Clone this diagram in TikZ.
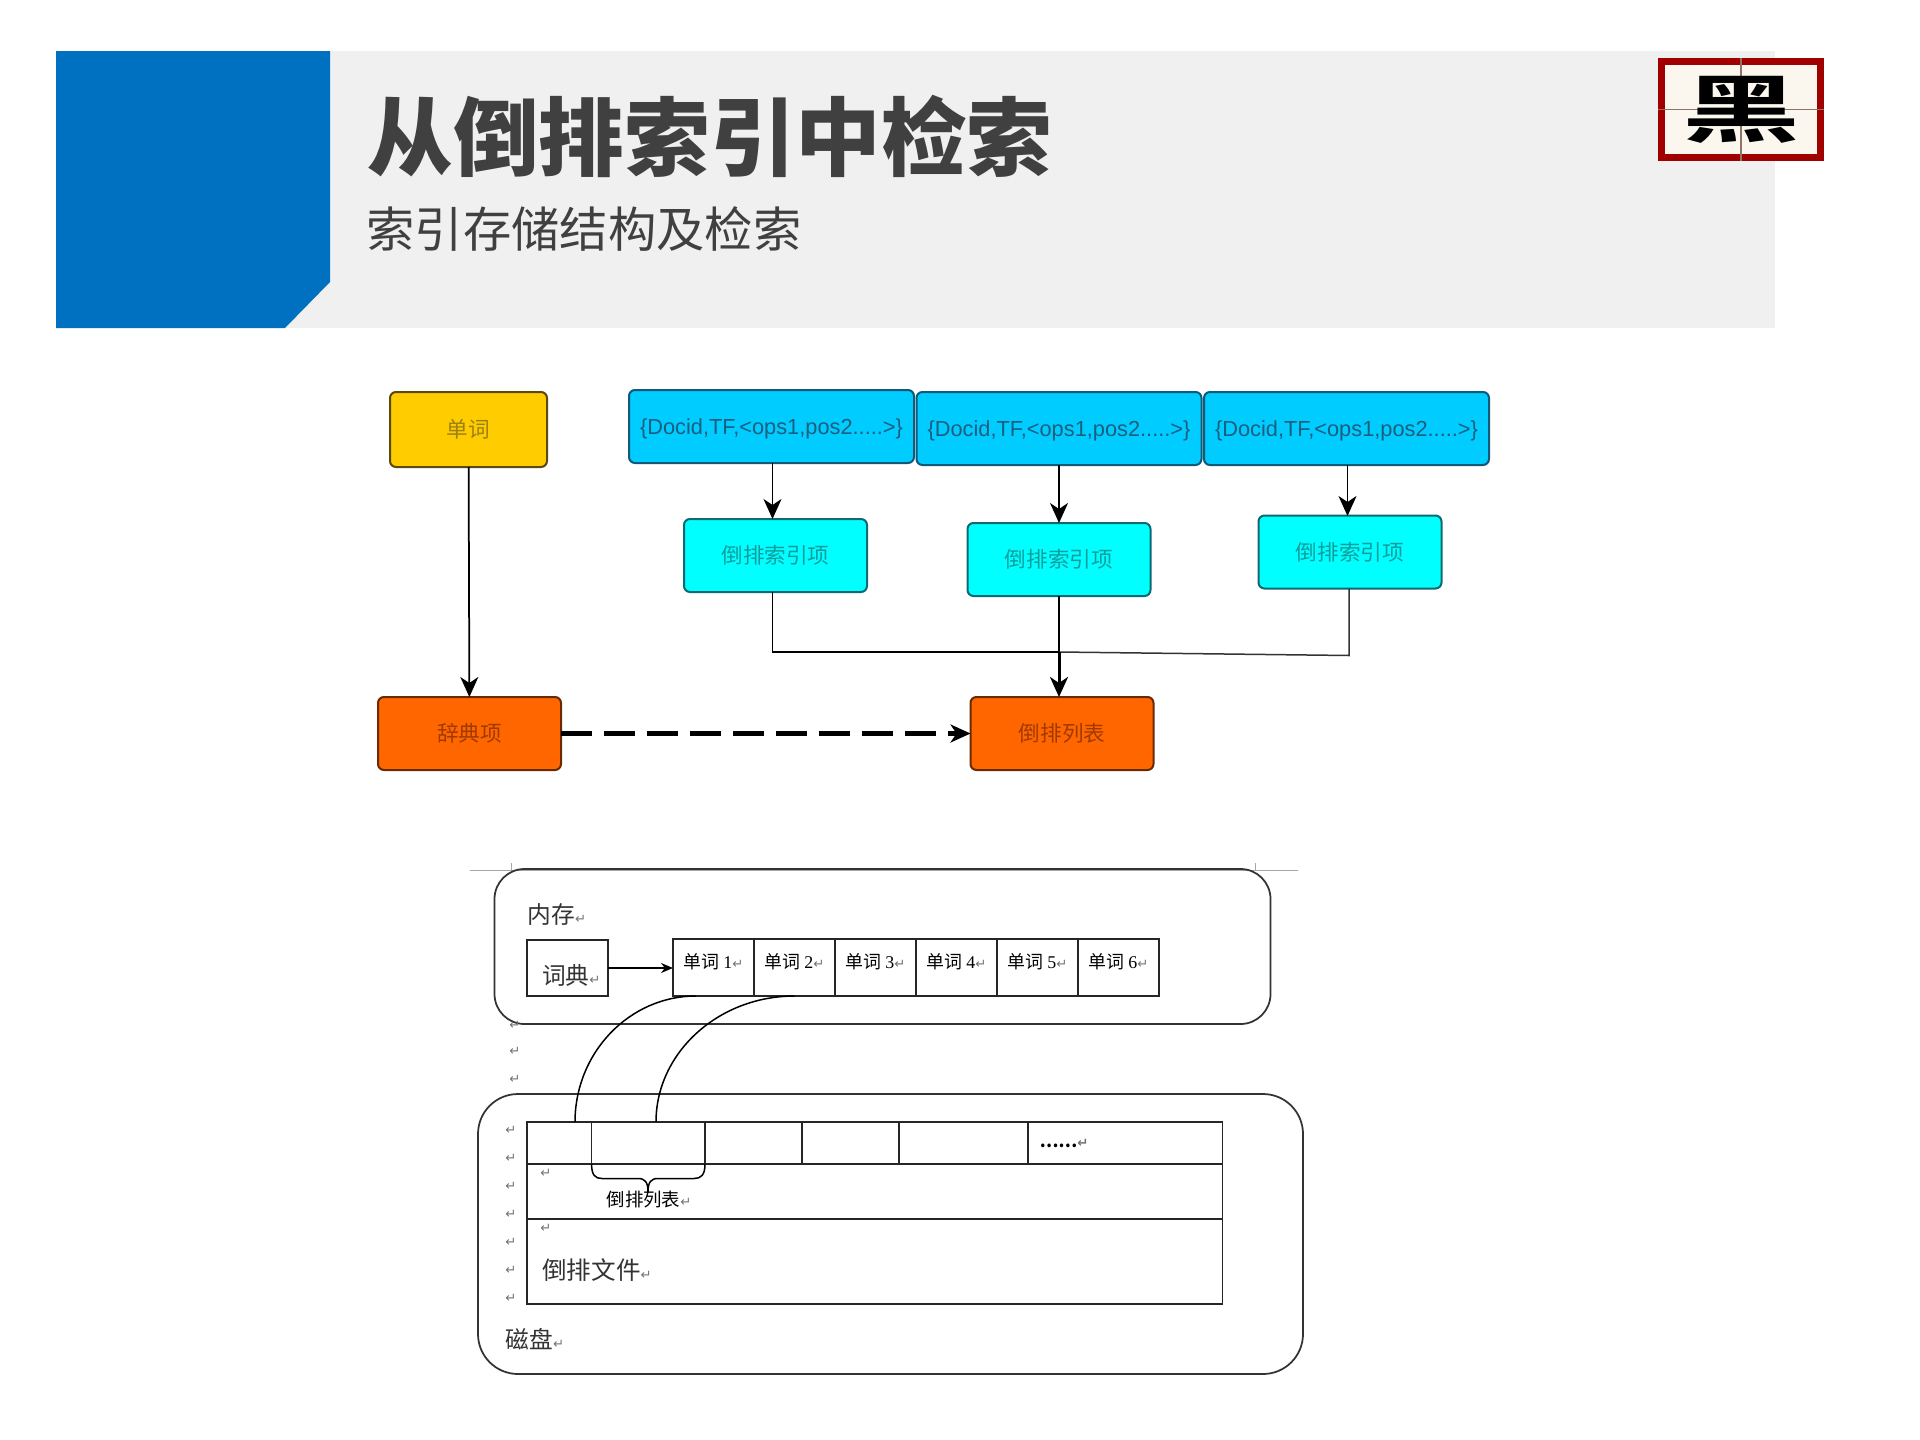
\documentclass[tikz,border=0pt]{standalone}
\usepackage{fontspec}
\setmainfont{Liberation Serif}
\newfontfamily\cjk{Noto Sans CJK SC}[BoldFont={Noto Sans CJK SC Black}]
\newfontfamily\logofont{Noto Sans CJK SC Bold}
\newfontfamily\symfont{DejaVu Sans}
\newfontfamily\docfont{Liberation Sans}
\usetikzlibrary{arrows.meta,positioning}
\definecolor{headblue}{HTML}{0070C0}
\definecolor{headgray}{HTML}{F0F0F0}
\definecolor{headtext}{HTML}{404040}
\definecolor{logored}{HTML}{A00000}
\definecolor{logopaper}{HTML}{FBF7EE}
\definecolor{logoline}{HTML}{8F7468}
\definecolor{wordfill}{HTML}{FFCC00}
\definecolor{worddraw}{HTML}{5A4A10}
\definecolor{wordtext}{HTML}{9A8010}
\definecolor{dictfill}{HTML}{FF6600}
\definecolor{dictdraw}{HTML}{6A2A00}
\definecolor{dicttext}{HTML}{A03A00}
\definecolor{docfill}{HTML}{00CCFF}
\definecolor{docdraw}{HTML}{0F5A78}
\definecolor{doctext}{HTML}{1A5E80}
\definecolor{itemfill}{HTML}{00FFFF}
\definecolor{itemdraw}{HTML}{0E6A70}
\definecolor{itemtext}{HTML}{109C9C}
\newcommand{\ret}{{\symfont\color{black!55}\fontsize{7.5}{7.5}\selectfont ↵}}
\newcommand{\wordlabel}[1]{\raisebox{0.26cm}{\cjk\fontsize{10.2}{10.2}\selectfont 单词 {\rmfamily #1}\ret}}
\newcommand{\doclabel}{\raisebox{-0.16cm}[0.2cm][0.2cm]{\{Docid,TF,<ops1,pos2.....>\}}}

\begin{document}
\begin{tikzpicture}
    [x=0.02cm,
    y=-0.02cm,
    >={Stealth[length=0.4cm,width=0.36cm,inset=0.12cm]},
    boxsize/.style 2 args={minimum width=#1*0.02cm, minimum height=#2*0.02cm},
    flowbox/.style={
      rectangle,
      rounded corners=0.12cm,
      inner sep=0pt,
      outer sep=0pt,
      line width=0.04cm},
    wordbox/.style={flowbox, boxsize={157}{75}, draw=worddraw, fill=wordfill,
      font=\cjk\fontsize{12.3}{12.3}\selectfont, text=wordtext},
    dictbox/.style={flowbox, boxsize={183}{73}, draw=dictdraw, fill=dictfill,
      font=\cjk\fontsize{12.3}{12.3}\selectfont, text=dicttext},
    docbox/.style={flowbox, boxsize={285}{73}, draw=docdraw, fill=docfill,
      font=\docfont\fontsize{12.4}{12.4}\selectfont, text=doctext},
    itembox/.style={flowbox, boxsize={183}{73}, draw=itemdraw, fill=itemfill,
      font=\cjk\fontsize{12.3}{12.3}\selectfont, text=itemtext},
    link/.style={->, line width=0.035cm},
    panel/.style={rectangle, rounded corners=0.6cm, draw=black!80, line width=0.035cm, inner sep=0pt},
    cell/.style={rectangle, draw=black!85, line width=0.03cm, inner sep=0pt, outer sep=0pt},
    wordcell/.style={cell, boxsize={81}{57}},
    tablecell/.style={cell, minimum height=42*0.02cm},
    tablerow/.style={cell, minimum width=695.5*0.02cm, anchor=north west},
    paneltext/.style={inner sep=0pt, font=\cjk\fontsize{13.5}{13.5}\selectfont, text=black!80},
    retmark/.style={inner sep=0pt}
    ]
    \useasboundingbox (0,0) rectangle (1920,1440);

    % header
    \fill[headgray] (285,51) rectangle (1775,328);
    \fill[headblue] (56,51) -- (330,51) -- (330,282) -- (285,328) -- (56,328) -- cycle;
    \node (title) [inner sep=0pt, text=headtext, font=\cjk\bfseries\fontsize{48.7}{48.7}\selectfont] at (710,136) {从倒排索引中检索};
    \node (subtitle) [inner sep=0pt, text=headtext, font=\cjk\fontsize{27.5}{27.5}\selectfont] at (584,229) {索引存储结构及检索};

    % logo
    \node (logo) [rectangle, inner sep=0pt, boxsize={159}{96}, draw=logored, fill=logopaper, line width=0.14cm] at (1741,109.5) {};
    \draw[logoline, line width=0.03cm] (logo.north) -- (logo.south);
    \draw[logoline, line width=0.03cm] (logo.west) -- (logo.east);
    \node (logochar) [inner sep=0pt, font=\logofont\fontsize{42}{42}\selectfont] at (1742,110) {\scalebox{1.6}[1]{黑}};

    % flow chart
    \node (word) [wordbox] at (468.5,429.5) {单词};
    \node (dict) [dictbox] at (469.5,733.5) {辞典项};
    \node (list) [dictbox] at (1062,733.5) {倒排列表};
    \node (doc1) [docbox] at (771.5,426.5) {\doclabel};
    \node (doc2) [docbox] at (1059,428.5) {\doclabel};
    \node (doc3) [docbox] at (1346.5,428.5) {\doclabel};
    \node (item1) [itembox] at (775.5,555.5) {倒排索引项};
    \node (item2) [itembox] at (1059,559.5) {倒排索引项};
    \node (item3) [itembox] at (1350,552) {倒排索引项};
    \coordinate (join) at (1059,652);
    \coordinate (bend3) at (1349,655.5);
    \path[link]
      (word) edge (dict)
      (doc1.south -| 772.5,0) edge (772.5,519)
      (doc2) edge (item2)
      (doc3.south -| 1347.5,0) edge (1347.5,516);
    \draw[line width=0.035cm] (772.5,592) |- (join);
    \draw[line width=0.035cm] (item2) -- (join);
    \draw[line width=0.03cm, black!80] (item3.south -| bend3) -- (bend3) -- (join);
    \draw[->, line width=0.06cm] (join) -- (join |- list.north);
    \draw[->, line width=0.09cm, dash pattern=on 0.62cm off 0.24cm] (dict) -- (list);

    % memory
    \draw[black!35, line width=0.02cm] (470,870) -- (1298,870);
    \draw[black!35, line width=0.02cm] (511,863) -- (511,870);
    \draw[black!35, line width=0.02cm] (1255,863) -- (1255,870);
    \node (memory) [panel, boxsize={776}{155}] at (882.5,946.5) {};
    \node (memorytext) [paneltext] at (557,914) {内存\ret};
    \node (dictionary) [cell, boxsize={81}{56}, font=\cjk\fontsize{13.5}{13.5}\selectfont, text=black!80] at (567.5,968) {\hspace*{0.15cm}\raisebox{-0.7cm}{词典\ret}};
    \node (word1) [wordcell] at (713.5,967.5) {\wordlabel{1}};
    \node (word2) [wordcell, right=0pt of word1] {\wordlabel{2}};
    \node (word3) [wordcell, right=0pt of word2] {\wordlabel{3}};
    \node (word4) [wordcell, right=0pt of word3] {\wordlabel{4}};
    \node (word5) [wordcell, right=0pt of word4] {\wordlabel{5}};
    \node (word6) [wordcell, right=0pt of word5] {\wordlabel{6}};
    \draw[-{Stealth[length=0.24cm,width=0.2cm]}, line width=0.03cm] (dictionary) -- (word1.west |- dictionary);

    % disk
    \node (disk) [panel, boxsize={825}{280}, rounded corners=0.8cm] at (890.5,1234) {};
    \node (cell1) [tablecell, minimum width=64.6*0.02cm] at (559.3,1143) {};
    \node (cell2) [tablecell, minimum width=113.4*0.02cm, right=0pt of cell1] {};
    \node (cell3) [tablecell, minimum width=97*0.02cm, right=0pt of cell2] {};
    \node (cell4) [tablecell, minimum width=97*0.02cm, right=0pt of cell3] {};
    \node (cell5) [tablecell, minimum width=129*0.02cm, right=0pt of cell4] {};
    \node (cell6) [tablecell, minimum width=194.5*0.02cm, right=0pt of cell5] {};
    \node (row2) [tablerow, minimum height=55*0.02cm] at (cell1.south west) {};
    \node (row3) [tablerow, minimum height=85*0.02cm] at (row2.south west) {};
    \node (dots) [inner sep=0pt, font=\cjk\bfseries\fontsize{9.6}{9.6}\selectfont] at (1064,1143) {……\ret};
    \node (listtext) [inner sep=0pt, font=\cjk\fontsize{10.5}{10.5}\selectfont] at (649,1200) {倒排列表\ret};
    \node (filetext) [paneltext, font=\cjk\fontsize{14}{14}\selectfont] at (597,1270) {倒排文件\ret};
    \node (disktext) [paneltext] at (535,1339) {磁盘\ret};

    % links to the table
    \coordinate (out1) at (696,996);
    \coordinate (out2) at (794.6,996);
    \coordinate (in1) at (575,1122);
    \coordinate (in2) at (656,1122);
    \draw[line width=0.03cm] (out1) .. controls (629,996) and (575,1053) .. (in1);
    \draw[line width=0.03cm] (out2) .. controls (718,996) and (656,1053) .. (in2);

    % brace
    \coordinate (tip) at (648,1192);
    \draw[line width=0.03cm] (cell2.south west) .. controls (591.6,1175) and (595,1178.5) .. (602,1178.5)
      -- (638,1178.5) .. controls (645,1178.5) and (648,1182) .. (tip);
    \draw[line width=0.03cm] (cell2.south east) .. controls (705,1175) and (701,1178.5) .. (694,1178.5)
      -- (658,1178.5) .. controls (651,1178.5) and (648,1182) .. (tip);

    % paragraph marks
    \node (mark1) [retmark] at (515,1025) {\ret};
    \node (mark2) [retmark] at (515,1051) {\ret};
    \node (mark3) [retmark] at (515,1079) {\ret};
    \node (mark4) [retmark] at (511,1130) {\ret};
    \node (mark5) [retmark] at (511,1158) {\ret};
    \node (mark6) [retmark] at (511,1186) {\ret};
    \node (mark7) [retmark] at (511,1214) {\ret};
    \node (mark8) [retmark] at (511,1242) {\ret};
    \node (mark9) [retmark] at (511,1270) {\ret};
    \node (mark10) [retmark] at (511,1298) {\ret};
    \node (mark11) [retmark] at (546,1173) {\ret};
    \node (mark12) [retmark] at (546,1228) {\ret};
\end{tikzpicture}
\end{document}
